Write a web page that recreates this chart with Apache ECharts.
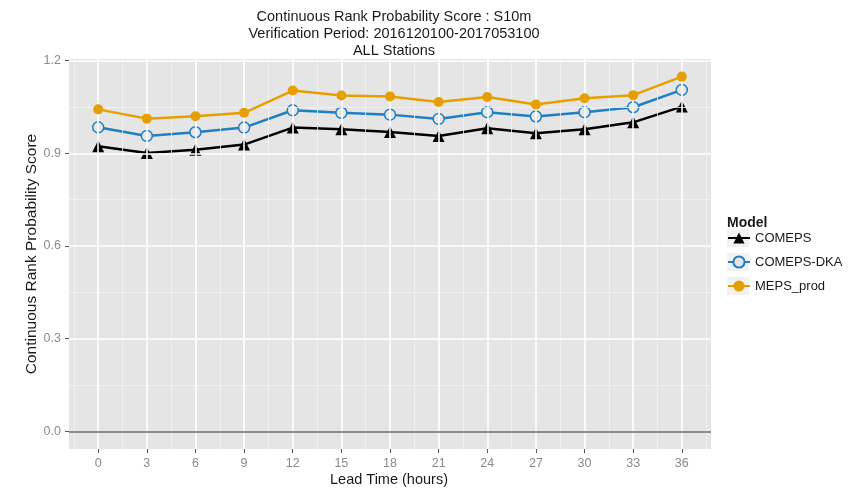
<!DOCTYPE html>
<html>
<head>
<meta charset="utf-8">
<script src="https://cdn.jsdelivr.net/npm/echarts@6/dist/echarts.min.js"></script>
<style>
html,body{margin:0;padding:0;background:#fff;}
#chart{width:857px;height:488px;}
</style>
</head>
<body>
<div id="chart"></div>
<script>
// ---- data ----
var leadTimes = [0, 3, 6, 9, 12, 15, 18, 21, 24, 27, 30, 33, 36];
var comeps    = [0.923, 0.901, 0.911, 0.928, 0.983, 0.978, 0.969, 0.956, 0.981, 0.965, 0.978, 1.000, 1.051];
var comepsDka = [0.984, 0.956, 0.968, 0.983, 1.039, 1.031, 1.025, 1.011, 1.033, 1.019, 1.033, 1.049, 1.105];
var mepsProd  = [1.042, 1.012, 1.020, 1.031, 1.103, 1.087, 1.084, 1.066, 1.082, 1.058, 1.078, 1.088, 1.148];
var seriesNames = ['COMEPS', 'COMEPS-DKA', 'MEPS_prod'];
var xTicks = [0, 3, 6, 9, 12, 15, 18, 21, 24, 27, 30, 33, 36];
var xMinor = [-1.5, 1.5, 4.5, 7.5, 10.5, 13.5, 16.5, 19.5, 22.5, 25.5, 28.5, 31.5, 34.5, 37.5];
var yTicks = [0, 0.3, 0.6, 0.9, 1.2];
var yMinor = [0.15, 0.45, 0.75, 1.05];
var titleLines = ['Continuous Rank Probability Score : S10m', 'Verification Period: 2016120100-2017053100', 'ALL Stations'];
var xTitle = 'Lead Time (hours)';
var yTitle = 'Continuous Rank Probability Score';
var legendTitle = 'Model';

// ---- chart ----
var FONT = 'Liberation Sans, Arial, Helvetica, sans-serif';
var chart = echarts.init(document.getElementById('chart'), null, {renderer: 'canvas'});

function pairs(vals) { return leadTimes.map(function (t, i) { return [t, vals[i]]; }); }

var gridLines = [];
xMinor.forEach(function (v) { gridLines.push({xAxis: v, lineStyle: {color: '#f2f2f2', width: 0.8, type: 'solid'}}); });
yMinor.forEach(function (v) { gridLines.push({yAxis: v, lineStyle: {color: '#f2f2f2', width: 0.8, type: 'solid'}}); });
xTicks.forEach(function (v) { gridLines.push({xAxis: v, lineStyle: {color: '#ffffff', width: 1.6, type: 'solid'}}); });
yTicks.forEach(function (v) { gridLines.push({yAxis: v, lineStyle: {color: '#ffffff', width: 1.6, type: 'solid'}}); });

var option = {
  animation: false,
  backgroundColor: '#ffffff',
  textStyle: {fontFamily: FONT},
  title: {
    text: titleLines.join('\n'),
    left: 389, top: 3, textAlign: 'center',
    textStyle: {fontSize: 14.5, fontWeight: 'normal', color: '#1a1a1a', lineHeight: 17, fontFamily: FONT}
  },
  grid: {left: 69, right: 146, top: 59, bottom: 39, show: true, backgroundColor: '#e5e5e5', borderWidth: 0},
  xAxis: {
    type: 'value', min: -1.8, max: 37.8,
    axisLine: {show: false, onZero: false},
    axisTick: {show: true, customValues: xTicks, length: 4, lineStyle: {color: '#555555', width: 1}},
    axisLabel: {customValues: xTicks, color: '#8a8a8a', fontSize: 12.5, margin: 8, fontFamily: FONT},
    splitLine: {show: false}
  },
  yAxis: {
    type: 'value', min: -0.057, max: 1.205,
    axisLine: {show: false, onZero: false},
    axisTick: {show: true, customValues: yTicks, length: 4, lineStyle: {color: '#555555', width: 1}},
    axisLabel: {customValues: yTicks, color: '#8a8a8a', fontSize: 12.5, margin: 8, fontFamily: FONT,
      formatter: function (v) { return v.toFixed(1); }},
    splitLine: {show: false}
  },
  legend: {
    orient: 'vertical', left: 727, top: 231, padding: 0, itemWidth: 22, itemHeight: 14, itemGap: 10,
    data: seriesNames,
    textStyle: {fontSize: 13, color: '#1a1a1a', fontFamily: FONT, lineHeight: 14, height: 14}
  },
  graphic: [
    {type: 'rect', shape: {x: 727, y: 229, width: 22, height: 18}, style: {fill: '#f2f2f2'}, z: -1},
    {type: 'rect', shape: {x: 727, y: 253, width: 22, height: 18}, style: {fill: '#f2f2f2'}, z: -1},
    {type: 'rect', shape: {x: 727, y: 277, width: 22, height: 18}, style: {fill: '#f2f2f2'}, z: -1},
    {type: 'text', x: 727, y: 223, style: {text: legendTitle, fill: '#1a1a1a', textVerticalAlign: 'middle', font: 'bold 14px ' + FONT}},
    {type: 'text', x: 389, y: 480, style: {text: xTitle, textAlign: 'center', textVerticalAlign: 'middle', fill: '#1a1a1a', font: '14.5px ' + FONT}},
    {type: 'text', x: 32, y: 254, rotation: Math.PI / 2, style: {text: yTitle, textAlign: 'center', textVerticalAlign: 'middle', fill: '#1a1a1a', font: '15.5px ' + FONT}}
  ],
  series: [
    {
      type: 'line', name: '_grid', data: [], z: 1, silent: true,
      markLine: {silent: true, symbol: 'none', label: {show: false}, animation: false, data: gridLines}
    },
    {
      type: 'line', name: '_zero', data: [], z: 1.5, silent: true,
      markLine: {silent: true, symbol: 'none', label: {show: false}, animation: false,
        data: [{yAxis: 0, lineStyle: {color: '#8c8c8c', width: 2, type: 'solid'}}]}
    },
    {
      type: 'line', name: seriesNames[0], data: pairs(comeps), z: 3,
      color: '#000000',
      symbol: 'triangle', symbolSize: 12,
      lineStyle: {color: '#000000', width: 2.5},
      itemStyle: {color: '#000000'}
    },
    {
      type: 'line', name: seriesNames[1], data: pairs(comepsDka), z: 4,
      color: '#1f7fc0',
      symbol: 'circle', symbolSize: 11,
      lineStyle: {color: '#1f7fc0', width: 2.5},
      itemStyle: {color: '#e5e5e5', borderColor: '#1f7fc0', borderWidth: 1.5}
    },
    {
      type: 'line', name: seriesNames[2], data: pairs(mepsProd), z: 5,
      color: '#e69f00',
      symbol: 'circle', symbolSize: 10,
      lineStyle: {color: '#e69f00', width: 2.5},
      itemStyle: {color: '#e69f00'}
    }
  ]
};
chart.setOption(option);
</script>
</body>
</html>
